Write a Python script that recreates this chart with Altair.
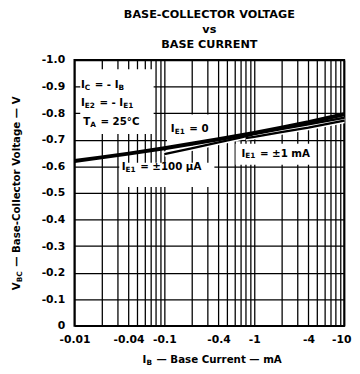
import altair as alt
import pandas as pd

# ---------------- data ----------------
# I_E1 = 0 curve (|I_B| in mA, V_BC in V)
ie0_x = [0.01, 0.02, 0.04, 0.1, 0.2, 0.4, 1, 2, 4, 10]
ie0_y = [-0.620, -0.634, -0.648, -0.668, -0.685, -0.702, -0.726, -0.746, -0.766, -0.796]
# I_E1 = ±100 µA curve
ie100_x = [0.1, 0.2, 0.4, 0.7, 1, 2, 4, 10]
ie100_y = [-0.646, -0.668, -0.690, -0.708, -0.721, -0.740, -0.758, -0.783]
# I_E1 = ±1 mA curve
ie1m_x = [0.8, 1, 2, 4, 10]
ie1m_y = [-0.706, -0.711, -0.729, -0.746, -0.772]

x_label_vals = [0.01, 0.04, 0.1, 0.4, 1, 4, 10]
x_label_text = ["-0.01", "-0.04", "-0.1", "-0.4", "-1", "-4", "-10"]
x_grid_vals = [0.01, 0.02, 0.03, 0.04, 0.05, 0.06, 0.07, 0.08, 0.09,
               0.1, 0.2, 0.3, 0.4, 0.5, 0.6, 0.7, 0.8, 0.9,
               1, 2, 3, 4, 5, 6, 7, 8, 9, 10]
y_vals = [-1.0, -0.9, -0.8, -0.7, -0.6, -0.5, -0.4, -0.3, -0.2, -0.1, 0.0]
y_text = ["-1.0", "-0.9", "-0.8", "-0.7", "-0.6", "-0.5", "-0.4", "-0.3", "-0.2", "-0.1", "0"]

# white label boxes (data coords) that interrupt the grid
box_x1 = [0.0116, 0.107, 0.0315, 0.62]
box_x2 = [0.076, 0.37, 0.36, 4.7]
box_y1 = [-0.965, -0.795, -0.614, -0.685]
box_y2 = [-0.722, -0.69, -0.522, -0.606]

NB = "\u00a0"
# annotations: anchor (data coords) and pieces (text, subscript?)
ann_x = [0.0118, 0.0118, 0.0125, 0.118, 0.0335, 0.72]
ann_y = [-0.905, -0.838, -0.765, -0.74, -0.598, -0.648]
ann_pieces = [
    [("I", False), ("C", True), (NB + "=" + NB + "-" + NB + "I", False), ("B", True)],
    [("I", False), ("E2", True), (NB + "=" + NB + "-" + NB + "I", False), ("E1", True)],
    [("T", False), ("A", True), (NB + "=" + NB + "25°C", False)],
    [("I", False), ("E1", True), (NB + "=" + NB + "0", False)],
    [("I", False), ("E1", True), (NB + "=" + NB + "±100" + NB + "µA", False)],
    [("I", False), ("E1", True), (NB + "=" + NB + "±1" + NB + "mA", False)],
]
title_lines = ["BASE-COLLECTOR VOLTAGE", "vs", "BASE CURRENT"]
ytitle_pieces = [("V", False), ("BC", True),
                 (NB + "—" + NB + "Base-Collector" + NB + "Voltage" + NB + "—" + NB + "V", False)]
xtitle_pieces = [("I", False), ("B", True),
                 (NB + "—" + NB + "Base" + NB + "Current" + NB + "—" + NB + "mA", False)]

# ---------------- styling ----------------
FONT = "DejaVu Sans"
W, H = 276, 272
FS, SUB = 10.5, 7.5
SUBGAP = 1.0

CW = {'I': 0.372, 'C': 0.734, '=': 0.838, '-': 0.415, ' ': 0.348, NB: 0.348, 'B': 0.762,
      'E': 0.683, 'T': 0.682, 'A': 0.774, '°': 0.5, '±': 0.838, 'µ': 0.713, 'm': 1.042,
      'V': 0.774, '—': 1.0, 'i': 0.343, 'l': 0.343, 't': 0.478, 'r': 0.493, 'e': 0.678,
      'a': 0.675, 'o': 0.687, 'g': 0.716, 's': 0.595, 'u': 0.712, 'n': 0.712, 'c': 0.593,
      '.': 0.38}


def tw(s, size):
    return sum(CW.get(ch, 0.696) for ch in s) * size


def label_expr(vals, labels):
    return "".join(f"abs(datum.value - ({v})) < 1e-9 ? '{l}' : " for v, l in zip(vals, labels)) + "''"


def layout(pieces, fs, sub):
    """returns list of (text, size, dx, dy) with leading spaces turned into offsets"""
    out = []
    cum = 0.0
    for text, is_sub in pieces:
        size = sub if is_sub else fs
        stripped = text.lstrip(NB)
        cum += (len(text) - len(stripped)) * CW[NB] * size
        out.append((stripped, size, cum, 3 if is_sub else 0))
        cum += tw(stripped, size) + (SUBGAP if is_sub else 0)
    return out, cum


xscale = alt.Scale(type="log", domain=[0.01, 10], nice=False)
yscale = alt.Scale(domain=[-1.0, 0.0], reverse=True, nice=False, zero=False)
xaxis = alt.Axis(values=x_grid_vals, labelExpr=label_expr(x_label_vals, x_label_text),
                 title=None, grid=True, ticks=False, domain=False, labelFont=FONT,
                 labelFontSize=11, labelFontWeight="bold", labelColor="black",
                 labelPadding=8, gridColor="black", gridWidth=1.3, gridOpacity=1,
                 labelFlush=False, labelOverlap=False,
                 labelAlign=alt.ConditionalAxisLabelAlign(
                     condition={"test": "datum.value >= 9.99", "value": "right"},
                     value="center"),
                 labelOffset=alt.ConditionalAxisNumber(
                     condition={"test": "datum.value >= 9.99", "value": 7}, value=0))
yaxis = alt.Axis(values=y_vals, labelExpr=label_expr(y_vals, y_text), title=None,
                 grid=True, ticks=False, domain=False, labelFont=FONT, labelFontSize=11,
                 labelFontWeight="bold", labelColor="black", labelPadding=10,
                 gridColor="black", gridWidth=1.3, gridOpacity=1, labelOverlap=False)

X = alt.X("x:Q", scale=xscale, axis=xaxis)
Y = alt.Y("y:Q", scale=yscale, axis=yaxis)

layers = []

boxes = pd.DataFrame({"x": box_x1, "x2": box_x2, "y": box_y1, "y2": box_y2})
layers.append(alt.Chart(boxes).mark_rect(color="white").encode(
    x=X, x2="x2:Q", y=Y, y2="y2:Q"))

curves = [(ie0_x, ie0_y, 4.0), (ie100_x, ie100_y, 2.4), (ie1m_x, ie1m_y, 2.4)]
for cx, cy, w in curves[1:]:
    d = pd.DataFrame({"x": cx, "y": cy})
    layers.append(alt.Chart(d).mark_line(color="white", strokeWidth=w + 3.0).encode(x=X, y=Y))
for cx, cy, w in curves:
    d = pd.DataFrame({"x": cx, "y": cy})
    layers.append(alt.Chart(d).mark_line(color="black", strokeWidth=w).encode(x=X, y=Y))

for axv, ayv, pcs in zip(ann_x, ann_y, ann_pieces):
    d = pd.DataFrame({"x": [axv], "y": [ayv]})
    parts, _ = layout(pcs, FS, SUB)
    for text, size, dx, dy in parts:
        layers.append(alt.Chart(d).mark_text(
            text=text, align="left", baseline="middle", dx=dx, dy=dy,
            font=FONT, fontSize=size, fontWeight="bold", color="black"
        ).encode(x=X, y=Y))

# axis titles with subscripts
TS = 10.5


def title_layers(pieces, enc, angle=0):
    parts, total = layout(pieces, TS, SUB)
    out = []
    for text, size, dx, dy in parts:
        out.append(alt.Chart(pd.DataFrame({"k": [0]})).mark_text(
            text=text, align="left", baseline="middle", dx=dx - total / 2, dy=dy,
            angle=angle, font=FONT, fontSize=size, fontWeight="bold", color="black"
        ).encode(**enc))
    return out


layers += title_layers(ytitle_pieces, {"x": alt.value(-59), "y": alt.value(H / 2)}, angle=270)
layers += title_layers(xtitle_pieces, {"x": alt.value(W / 2 + 3), "y": alt.value(H + 35)})

chart = alt.layer(*layers).properties(
    width=W, height=H,
    title=alt.TitleParams(text=title_lines, font=FONT, fontSize=11.5, fontWeight="bold",
                          color="black", anchor="middle", lineHeight=15.5, offset=4),
    padding={"left": 68, "top": 49, "right": 8, "bottom": 45},
    autosize=alt.AutoSizeParams(type="none"),
).configure_view(stroke="black", strokeWidth=2)

chart.save("out.html", embed_options={"renderer": "svg", "actions": False})
